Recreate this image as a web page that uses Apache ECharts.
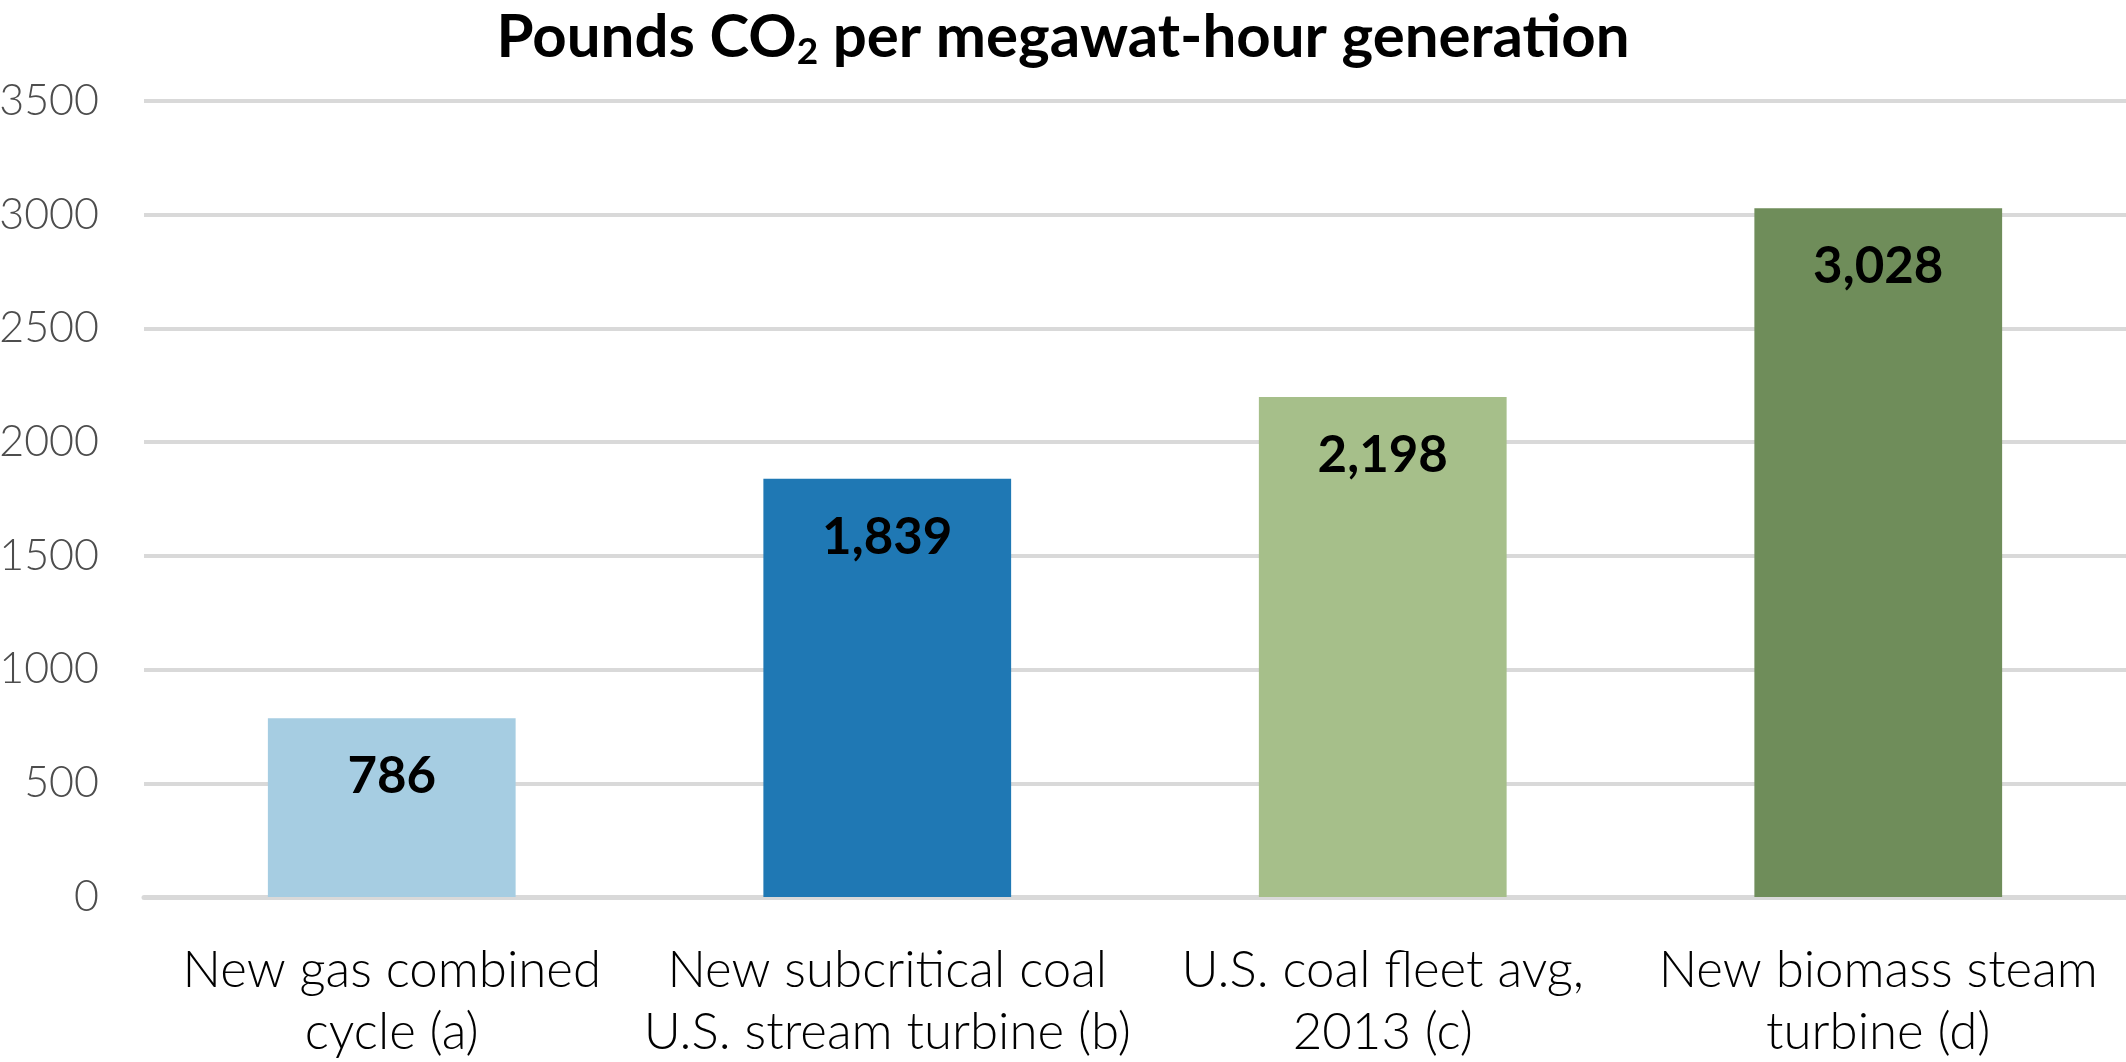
<!DOCTYPE html>
<html>
<head>
<meta charset="utf-8">
<script src="https://cdn.jsdelivr.net/npm/echarts@6/dist/echarts.min.js"></script>
<style>
html,body{margin:0;padding:0;background:#fff;}
#main{width:2126px;height:1062px;}
</style>
</head>
<body>
<div id="main"></div>
<script>
const categories = [
  "New gas combined\ncycle (a)",
  "New subcritical coal\nU.S. stream turbine (b)",
  "U.S. coal fleet avg,\n2013 (c)",
  "New biomass steam\nturbine (d)"
];
const values = [786, 1839, 2198, 3028];
const barColors = ["#a6cde2", "#1f78b4", "#a6bf8a", "#6f8d5a"];
const yTicks = { min: 0, max: 3500, interval: 500 };
const titleText = "Pounds CO{sub|2} per megawat-hour generation";

const chart = echarts.init(document.getElementById('main'));
chart.setOption({
  animation: false,
  backgroundColor: '#ffffff',
  title: {
    text: titleText,
    left: 'center',
    top: 0,
    textStyle: {
      fontFamily: 'Lato',
      fontSize: 60,
      fontWeight: 'bold',
      color: '#000000',
      lineHeight: 66,
      rich: {
        sub: {
          fontFamily: 'Lato',
          fontSize: 37,
          fontWeight: 'bold',
          color: '#000000',
          lineHeight: 30,
          verticalAlign: 'bottom'
        }
      }
    }
  },
  grid: { left: 144, right: 0, top: 101, bottom: 165, containLabel: false, outerBoundsMode: 'none' },
  xAxis: {
    type: 'category',
    data: categories,
    axisTick: { show: false },
    axisLine: { show: true, lineStyle: { color: '#d9d9d9', width: 5 } },
    axisLabel: {
      fontFamily: 'Lato',
      fontSize: 51,
      fontWeight: 300,
      color: '#000000',
      lineHeight: 62,
      margin: 43,
      interval: 0
    }
  },
  yAxis: {
    type: 'value',
    min: yTicks.min,
    max: yTicks.max,
    interval: yTicks.interval,
    axisLine: { show: false },
    axisTick: { show: false },
    splitLine: { show: true, lineStyle: { color: '#d9d9d9', width: 4 } },
    axisLabel: {
      fontFamily: 'Lato',
      fontSize: 43,
      fontWeight: 300,
      color: '#4d4d4d',
      margin: 45,
      formatter: v => String(v)
    }
  },
  series: [{
    type: 'bar',
    data: values.map((v, i) => ({ value: v, itemStyle: { color: barColors[i] } })),
    barWidth: '50%',
    label: {
      show: true,
      position: 'insideTop',
      distance: 33,
      fontFamily: 'Lato',
      fontSize: 51,
      fontWeight: 'bold',
      color: '#000000',
      formatter: p => p.value.toLocaleString('en-US')
    }
  }]
});
</script>
</body>
</html>
